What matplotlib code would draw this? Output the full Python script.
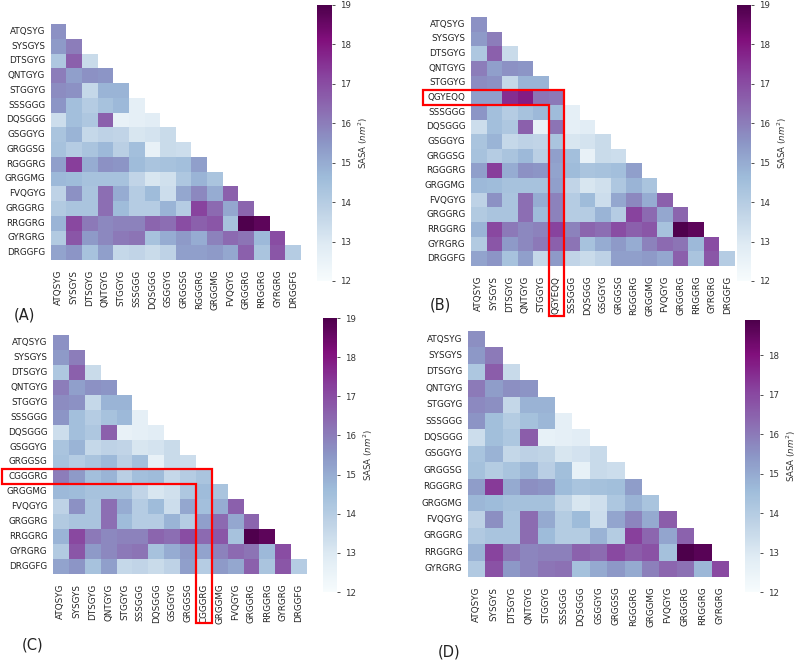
import numpy as np
import matplotlib
matplotlib.use("Agg")
import matplotlib.pyplot as plt
import seaborn as sns
from matplotlib.patches import Polygon

peptides = ["ATQSYG", "SYSGYS", "DTSGYG", "QNTGYG", "STGGYG", "SSSGGG",
            "DQSGGG", "GSGGYG", "GRGGSG", "RGGGRG", "GRGGMG", "FVQGYG",
            "GRGGRG", "RRGGRG", "GYRGRG", "DRGGFG"]

# lower triangle of pairwise SASA (nm^2), row i has i+1 values
sasa_rows = [
    [15.6],
    [15.4, 16.0],
    [14.2, 16.6, 13.5],
    [16.0, 15.3, 15.6, 15.5],
    [15.7, 15.6, 13.6, 14.8, 14.8],
    [15.5, 14.5, 14.0, 14.4, 14.7, 12.7],
    [13.4, 14.5, 14.2, 16.6, 12.6, 12.7, 12.8],
    [14.3, 14.8, 13.6, 13.8, 13.7, 13.1, 13.2, 13.5],
    [14.4, 14.0, 14.3, 14.7, 13.9, 14.5, 12.6, 13.5, 13.4],
    [15.3, 17.3, 15.0, 15.6, 15.5, 14.6, 14.3, 14.4, 14.5, 15.3],
    [14.7, 14.6, 14.4, 14.4, 14.4, 13.7, 13.1, 13.3, 14.2, 14.8, 14.3],
    [13.8, 15.6, 14.3, 16.3, 15.0, 14.0, 14.6, 13.4, 15.1, 15.8, 15.0, 16.6],
    [14.1, 14.3, 14.3, 16.3, 14.6, 14.0, 14.0, 14.8, 14.0, 17.2, 16.4, 15.1, 16.5],
    [14.8, 17.1, 16.1, 15.8, 15.9, 15.9, 16.5, 16.3, 17.0, 16.6, 16.8, 14.4, 18.95, 18.7],
    [14.1, 16.8, 15.4, 15.8, 16.1, 16.2, 14.4, 15.0, 15.4, 15.0, 15.9, 16.4, 16.2, 14.7, 17.0],
    [15.2, 15.5, 14.4, 15.3, 13.6, 13.7, 13.5, 13.8, 15.3, 15.3, 15.4, 15.1, 16.6, 14.3, 16.8, 14.0],
]

# (B) extra peptide QGYEQQ inserted after STGGYG
qgyeqq_row = [15.3, 15.3, 17.6, 17.9, 16.2, 16.1]
qgyeqq_col = [14.6, 16.2, 14.3, 15.3, 15.2, 15.3, 15.9, 15.9, 17.2, 16.6, 15.4]

# (C) CGGGRG replaces RGGGRG
cgggrg_row = [16.0, 15.4, 14.5, 14.8, 13.9, 14.5, 14.6, 13.6, 14.0, 14.3]
cgggrg_col = [14.6, 14.5, 15.3, 16.4, 15.2, 14.0]

W, H = 800, 661


def frac(x0, y0, x1, y1):
    return [x0 / W, 1 - y1 / H, (x1 - x0) / W, (y1 - y0) / H]


def lower(rows):
    n = len(rows)
    m = np.full((n, n), np.nan)
    for i, r in enumerate(rows):
        m[i, :len(r)] = r
    return m


mat_a = lower(sasa_rows)

labels_b = peptides[:5] + ["QGYEQQ"] + peptides[5:]
idx = [i for i in range(17) if i != 5]
mat_b = np.full((17, 17), np.nan)
mat_b[np.ix_(idx, idx)] = mat_a
mat_b[5, :6] = qgyeqq_row
mat_b[6:, 5] = qgyeqq_col

labels_c = peptides[:9] + ["CGGGRG"] + peptides[10:]
mat_c = mat_a.copy()
mat_c[9, :10] = cgggrg_row
mat_c[10:, 9] = cgggrg_col

labels_d = peptides[:15]
mat_d = mat_a[:15, :15]

fig = plt.figure(figsize=(W / 100, H / 100), dpi=100)


def draw(heat_box, cbar_box, mat, labels, vmax):
    ax = fig.add_axes(frac(*heat_box))
    cax = fig.add_axes(frac(*cbar_box))
    mask = np.triu(np.ones_like(mat, dtype=bool), k=1)
    sns.heatmap(mat, mask=mask, cmap="BuPu", vmin=12, vmax=vmax, ax=ax,
                cbar_ax=cax, xticklabels=labels, yticklabels=labels,
                cbar_kws={"label": r"SASA ($nm^2$)"})
    ax.set_xticklabels(labels, rotation=90)
    ax.set_yticklabels(labels, rotation=0)
    ax.tick_params(axis="both", length=0, labelsize=6.3, colors="#222222")
    ax.tick_params(axis="x", pad=7)
    ax.tick_params(axis="y", pad=4)
    cax.tick_params(labelsize=6.2, length=2.5, width=0.6, colors="#333333")
    cax.yaxis.label.set_size(6.2)
    cax.yaxis.label.set_color("#333333")
    return ax


def highlight(ax, k, left, bottom):
    pts = [(left, k), (k + 1, k), (k + 1, bottom), (k, bottom), (k, k + 1), (left, k + 1)]
    ax.add_patch(Polygon(pts, closed=True, fill=False, edgecolor="red",
                         lw=1.6, clip_on=False, zorder=10))


draw((50.7, 24, 301, 260), (317, 5, 332, 281), mat_a, peptides, 19)
ax_b = draw((471, 17, 735, 266), (737, 5, 751, 281), mat_b, labels_b, 19)
ax_c = draw((53, 335, 307, 574), (323, 318, 337, 592), mat_c, labels_c, 19)
draw((468, 331, 729, 577), (745, 320, 760, 592), mat_d, labels_d, 18.9)

highlight(ax_b, 5, -3.1, 20.4)
highlight(ax_c, 9, -3.2, 19.3)

for txt, x, y in [("(A)", 24, 315), ("(B)", 440, 305), ("(C)", 33, 645), ("(D)", 449, 652)]:
    fig.text(x / W, 1 - y / H, txt, fontsize=10.5, ha="center", va="center", color="#222222")

fig.savefig("out.png", dpi=100)
